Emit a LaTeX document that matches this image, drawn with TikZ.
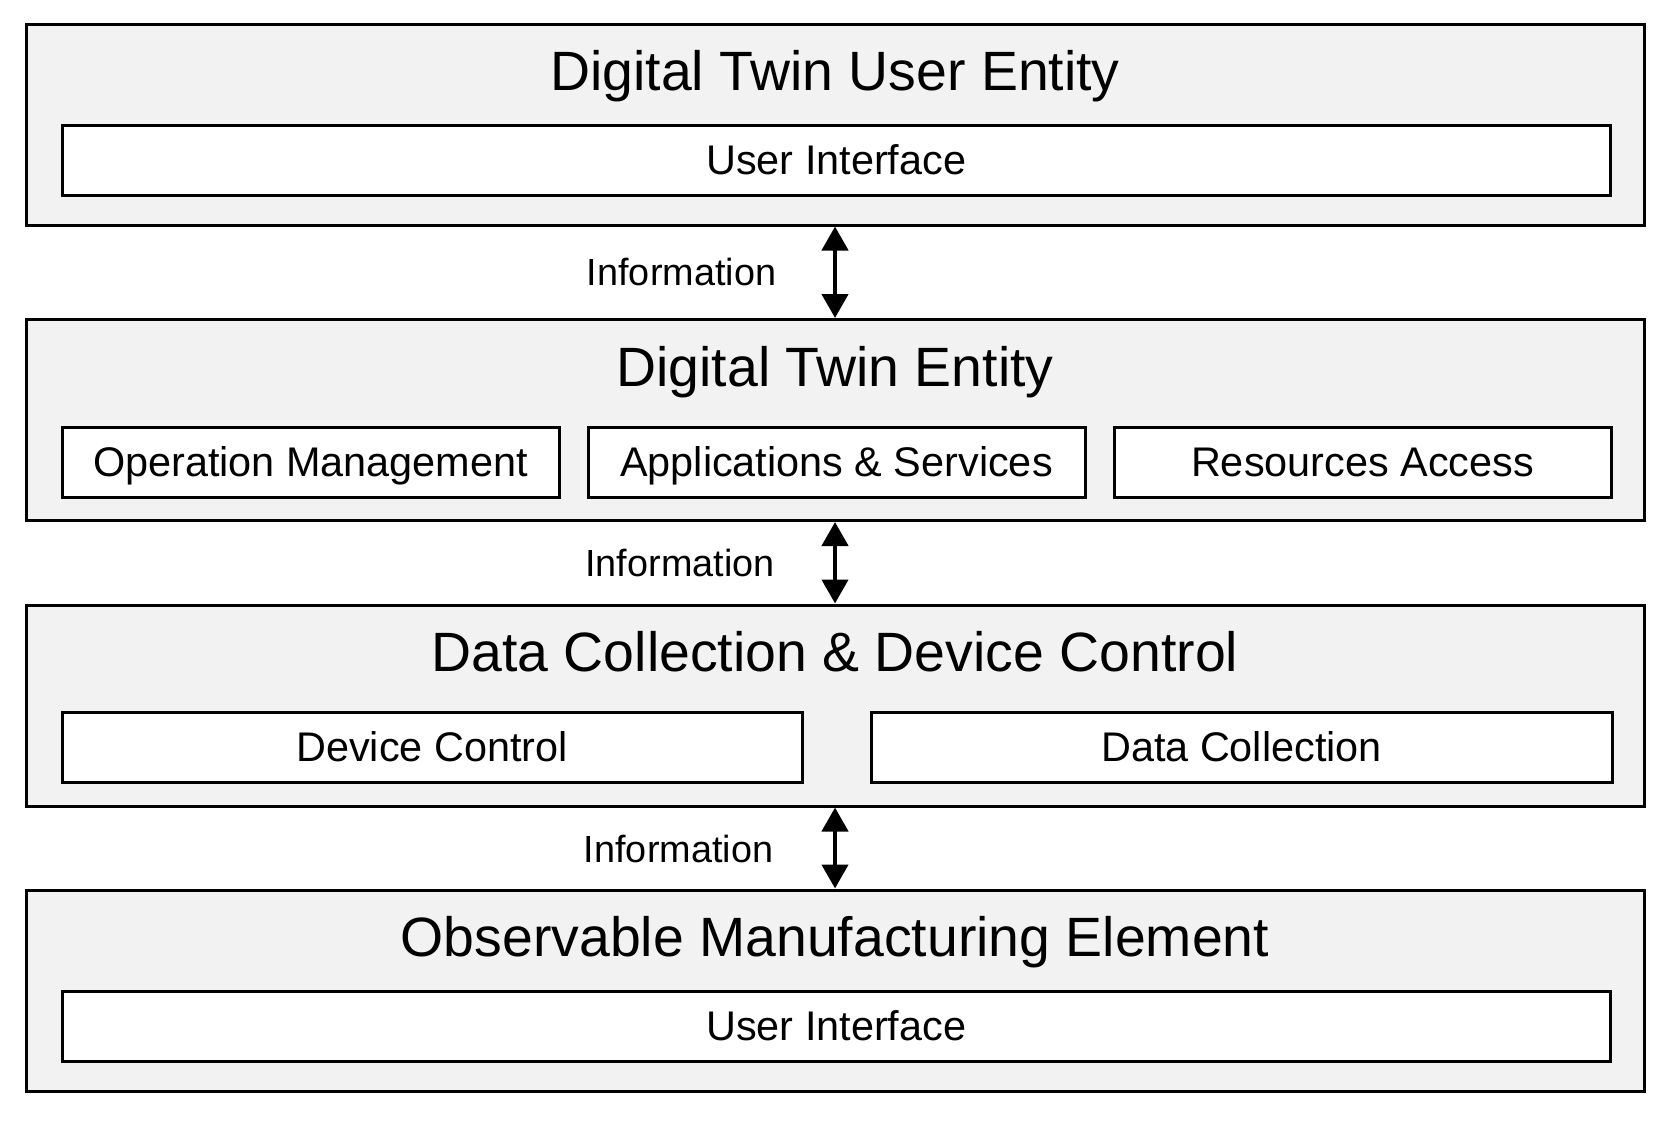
\documentclass[tikz,border=0pt]{standalone}
\usepackage{fontspec}
\setmainfont{Liberation Sans}
\usetikzlibrary{arrows.meta}
\definecolor{panelgray}{HTML}{F2F2F2}
\tikzset{
  layerbox/.style={draw=black, line width=1.5pt, fill=panelgray, minimum width=809pt, minimum height=100.5pt, inner sep=0pt},
  partbox/.style={draw=black, line width=1.5pt, fill=white, minimum height=35pt, inner sep=0pt,
     font=\fontsize{20.7pt}{25pt}\selectfont, text height=14.82pt, text depth=0pt},
  layertitle/.style={inner sep=0pt, font=\fontsize{27.7pt}{32pt}\selectfont, text height=19.83pt, text depth=0pt},
  infolabel/.style={inner sep=0pt, font=\fontsize{18.9pt}{22pt}\selectfont, text height=13.53pt, text depth=0pt},
  biarrow/.style={line width=2.2pt, {Triangle[length=12pt,width=13pt]}-{Triangle[length=12pt,width=13pt]}}
}
\begin{document}
\begin{tikzpicture}[x=0.5pt,y=-0.5pt]
\useasboundingbox (0,0) rectangle (1670,1124);
% layer 1
\node[layerbox] (b1) at (835,124.5) {};
\node[layertitle] (t1) at (835,71) {Digital Twin User Entity};
\node[partbox, minimum width=773.75pt] (ui1) at (836.25,160) {User Interface};
% layer 2
\node[layerbox] (b2) at (835,420) {};
\node[layertitle] (t2) at (835,367) {Digital Twin Entity};
\node[partbox, minimum width=248.5pt] (om) at (310.5,462) {Operation Management};
\node[partbox, minimum width=248.5pt] (as) at (836.5,462) {Applications \& Services};
\node[partbox, minimum width=248.5pt] (ra) at (1362.5,462) {Resources Access};
% layer 3
\node[layerbox] (b3) at (835,705.5) {};
\node[layertitle] (t3) at (835,652) {Data Collection \& Device Control};
\node[partbox, minimum width=370pt] (dc) at (432,747) {Device Control};
\node[partbox, minimum width=370.5pt] (dcol) at (1241.5,747) {Data Collection};
% layer 4
\node[layerbox] (b4) at (835,990.5) {};
\node[layertitle] (t4) at (835,937) {Observable Manufacturing Element};
\node[partbox, minimum width=773.75pt] (ui4) at (836.25,1026) {User Interface};
% connectors
\draw[biarrow] (b1.south) -- (b2.north);
\draw[biarrow] (b2.south) -- (b3.north);
\draw[biarrow] (b3.south) -- (b4.north);
\node[infolabel] (i1) at (681.5,271.5) {Information};
\node[infolabel] (i2) at (680,563) {Information};
\node[infolabel] (i3) at (678.5,849) {Information};
\end{tikzpicture}
\end{document}
